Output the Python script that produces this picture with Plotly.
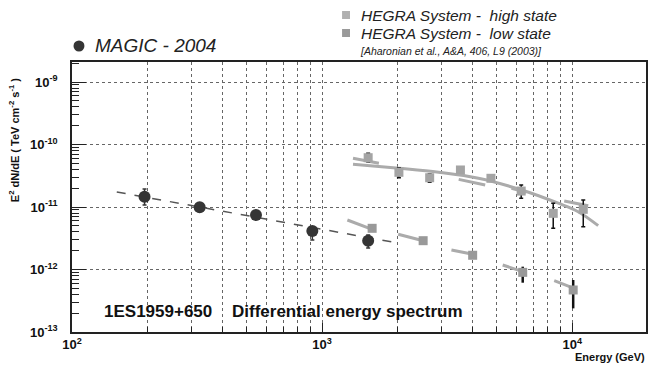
import plotly.graph_objects as go

# ---------------- data ----------------
# MAGIC 2004
magic_E = [195, 324, 544, 914, 1528]
magic_F = [1.46e-11, 9.9e-12, 7.45e-12, 4.13e-12, 2.89e-12]
magic_up = [1.94e-11, 1.08e-11, 8.0e-12, 4.84e-12, 3.56e-12]
magic_lo = [1.08e-11, 0.92e-11, 6.6e-12, 2.96e-12, 2.21e-12]

# MAGIC power-law fit (end points)
magic_fit_E = [151, 2010]
magic_fit_F = [1.74e-11, 2.65e-12]

# HEGRA high state
high_E = [1528, 2028, 2692, 3573, 4732, 6252, 8396, 11070]
high_F = [6.15e-11, 3.59e-11, 2.94e-11, 3.91e-11, 2.88e-11, 1.80e-11, 7.92e-12, 9.18e-12]
high_up = [7.22e-11, 4.2e-11, 3.4e-11, 4.3e-11, 3.2e-11, 2.25e-11, 1.15e-11, 1.29e-11]
high_lo = [5.3e-11, 2.95e-11, 2.48e-11, 3.5e-11, 2.6e-11, 1.38e-11, 4.56e-12, 4.84e-12]

# HEGRA low state
low_E = [1585, 2535, 3999, 6340, 10090]
low_F = [4.56e-12, 2.89e-12, 1.69e-12, 9.0e-13, 4.70e-13]
low_up = [4.8e-12, 3.0e-12, 1.78e-12, 1.11e-12, 6.79e-13]
low_lo = [4.3e-12, 2.75e-12, 1.6e-12, 6.15e-13, 2.39e-13]

# HEGRA high-state curved fit
high_fit_E = [1329, 2028, 2924, 4218, 6281, 8790, 10560, 12700]
high_fit_F = [4.82e-11, 4.16e-11, 3.59e-11, 2.88e-11, 1.87e-11, 1.15e-11, 8.41e-12, 5.03e-12]

# short slanted segments (start/end energies and fluxes)
high_seg_E = [[1329, 1687], [3516, 4488], [5715, 6562], [9290, 11590]]
high_seg_F = [[6.01e-11, 5.00e-11], [2.77e-11, 2.25e-11], [1.99e-11, 1.72e-11], [1.25e-11, 1.05e-11]]
low_seg_E = [[1262, 1585], [2014, 2535], [3289, 4009], [5273, 6340], [8472, 10180]]
low_seg_F = [[6.19e-12, 4.40e-12], [3.66e-12, 2.89e-12], [2.05e-12, 1.75e-12], [1.18e-12, 9.23e-13], [6.62e-13, 5.0e-13]]

x_tick_vals = [1e2, 1e3, 1e4]
x_tick_text = ["<b>10<sup>2</sup></b>", "<b>10<sup>3</sup></b>", "<b>10<sup>4</sup></b>"]
y_tick_vals = [1e-13, 1e-12, 1e-11, 1e-10, 1e-9]
y_tick_text = ["<b>10<sup>-13</sup></b>", "<b>10<sup>-12</sup></b>", "<b>10<sup>-11</sup></b>",
               "<b>10<sup>-10</sup></b>", "<b>10<sup>-9</sup></b>"]

# ---------------- helpers ----------------
W, H = 650, 365
L, R, T, B = 72, 2, 62, 33
PW, PH = W - L - R, H - T - B


def px(x):
    return (x - L) / PW


def py(y):
    return (H - B - y) / PH


def flat(segsx, segsy):
    xs, ys = [], []
    for sx, sy in zip(segsx, segsy):
        xs += list(sx) + [None]
        ys += list(sy) + [None]
    return xs, ys


fig = go.Figure()

fit_col = "#ababab"
# HEGRA fit curve
fig.add_trace(go.Scatter(x=high_fit_E, y=high_fit_F, mode="lines",
                         line=dict(color=fit_col, width=3, shape="spline"), hoverinfo="skip"))
sx, sy = flat(high_seg_E, high_seg_F)
fig.add_trace(go.Scatter(x=sx, y=sy, mode="lines", line=dict(color=fit_col, width=3), hoverinfo="skip"))
sx, sy = flat(low_seg_E, low_seg_F)
fig.add_trace(go.Scatter(x=sx, y=sy, mode="lines", line=dict(color=fit_col, width=3), hoverinfo="skip"))

# MAGIC fit
fig.add_trace(go.Scatter(x=magic_fit_E, y=magic_fit_F, mode="lines",
                         line=dict(color="#555555", width=1.5, dash="dash"), hoverinfo="skip"))

# HEGRA high
fig.add_trace(go.Scatter(
    x=high_E, y=high_F, mode="markers",
    marker=dict(symbol="square", size=9, color="#a4a4a4"),
    error_y=dict(type="data", symmetric=False,
                 array=[u - f for u, f in zip(high_up, high_F)],
                 arrayminus=[f - l for f, l in zip(high_F, high_lo)],
                 color="#111111", thickness=1.5, width=2)))
# HEGRA low
fig.add_trace(go.Scatter(
    x=low_E, y=low_F, mode="markers",
    marker=dict(symbol="square", size=9, color="#999999"),
    error_y=dict(type="data", symmetric=False,
                 array=[u - f for u, f in zip(low_up, low_F)],
                 arrayminus=[f - l for f, l in zip(low_F, low_lo)],
                 color="#111111", thickness=2.5, width=0)))
# MAGIC
fig.add_trace(go.Scatter(
    x=magic_E, y=magic_F, mode="markers",
    marker=dict(symbol="circle", size=12, color="#353535"),
    error_y=dict(type="data", symmetric=False,
                 array=[u - f for u, f in zip(magic_up, magic_F)],
                 arrayminus=[f - l for f, l in zip(magic_F, magic_lo)],
                 color="#353535", thickness=1.5, width=2)))

x_minor = [k * 10 ** n for n in range(2, 5) for k in range(2, 10) if k * 10 ** n < 2e4]
y_minor = [k * 10.0 ** n for n in range(-13, -8) for k in range(2, 10) if k * 10.0 ** n < 2.09e-9]

grid_col = "#666666"
fig.update_layout(
    width=W, height=H,
    margin=dict(l=L, r=R, t=T, b=B),
    paper_bgcolor="white", plot_bgcolor="white",
    showlegend=False,
    font=dict(family="Liberation Sans, Arial, sans-serif", color="#111111"),
    xaxis=dict(type="log", range=[2, 4.295], tickvals=x_tick_vals, ticktext=x_tick_text,
               tickfont=dict(size=13, color="#111111"),
               showgrid=True, gridcolor=grid_col, griddash="dot", gridwidth=1,
               ticks="inside", ticklen=9, tickcolor="#222222",
               minor=dict(tickvals=x_minor, showgrid=True, gridcolor=grid_col, griddash="dot",
                          gridwidth=1, ticks="inside", ticklen=5, tickcolor="#222222"),
               showline=True, linecolor="#222222", linewidth=1.5, mirror=True,
               zeroline=False),
    yaxis=dict(type="log", range=[-13, -8.68], tickvals=y_tick_vals, ticktext=y_tick_text,
               tickfont=dict(size=13, color="#111111"),
               showgrid=True, gridcolor=grid_col, griddash="dot", gridwidth=1,
               ticks="inside", ticklen=14, tickcolor="#222222", ticklabelstandoff=10,
               minor=dict(tickvals=y_minor, showgrid=False, ticks="inside", ticklen=7,
                          tickcolor="#222222"),
               showline=True, linecolor="#222222", linewidth=1.5, mirror=True,
               zeroline=False),
)

shapes = [
    dict(type="circle", xref="paper", yref="paper", x0=px(73.5), x1=px(84.5), y0=py(51.5), y1=py(40.5),
         fillcolor="#353535", line=dict(width=0)),
    dict(type="rect", xref="paper", yref="paper", x0=px(343), x1=px(351), y0=py(19), y1=py(11),
         fillcolor="#b0b0b0", line=dict(width=0)),
    dict(type="rect", xref="paper", yref="paper", x0=px(343), x1=px(351), y0=py(37), y1=py(29),
         fillcolor="#9a9a9a", line=dict(width=0)),
]
fig.update_layout(shapes=shapes)

ann = []
def add(text, x, y, size, xanchor="left", italic=False, bold=False, angle=0, color="#222222"):
    t = text
    if bold:
        t = "<b>" + t + "</b>"
    if italic:
        t = "<i>" + t + "</i>"
    ann.append(dict(text=t, x=px(x), y=py(y), xref="paper", yref="paper", showarrow=False,
                    xanchor=xanchor, yanchor="middle", textangle=angle,
                    font=dict(size=size, color=color, family="Liberation Sans, Arial, sans-serif")))

add("MAGIC - 2004", 93, 46, 19, italic=True)
add("HEGRA System -\u00a0 high state", 360, 15, 15.5, italic=True)
add("HEGRA System -\u00a0 low state", 360, 33, 15.5, italic=True)
add("[Aharonian et al., A&amp;A, 406, L9 (2003)]", 359, 51, 10.5, italic=True)
add("1ES1959+650", 102, 311, 17, bold=True, color="#111111")
add("Differential energy spectrum", 231, 311, 17, bold=True, color="#111111")
add("Energy (GeV)", 649, 357, 11, xanchor="right", bold=True, color="#111111")
add("E<sup>2</sup> dN/dE ( TeV cm<sup>-2</sup> s<sup>-1</sup> )", 14, 140, 11, bold=True,
    angle=-90, color="#111111")
ann[-1]["xanchor"] = "center"
fig.update_layout(annotations=ann)

fig.write_html("out.html", config={"displayModeBar": False},
               post_script="document.body.style.margin='0';document.body.style.overflow='hidden';")
